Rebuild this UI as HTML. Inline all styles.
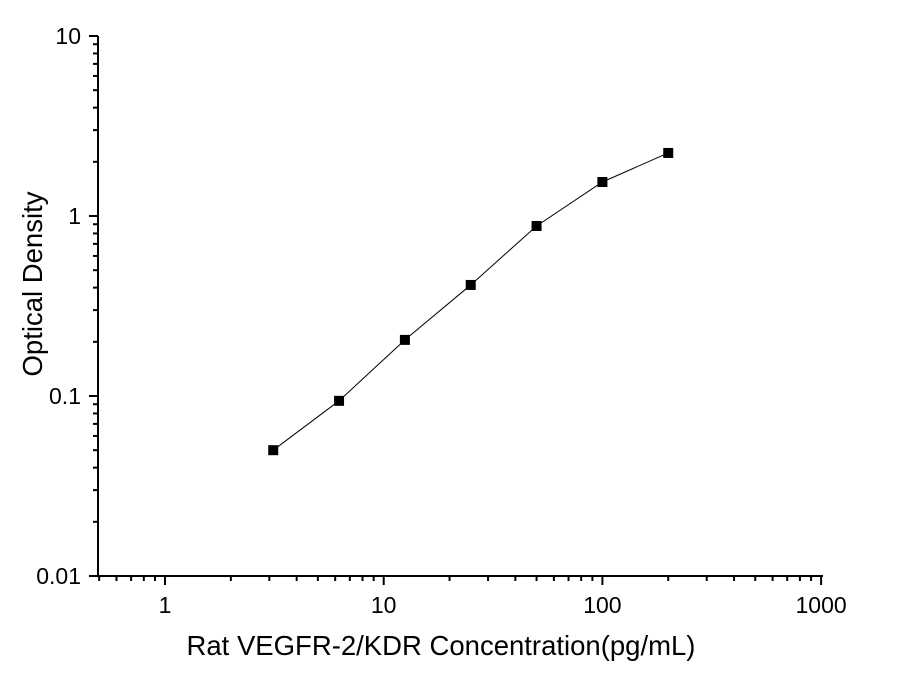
<!DOCTYPE html>
<html><head><meta charset="utf-8"><style>body{margin:0;background:#fff}svg{display:block}text{font-family:"Liberation Sans",Arial,sans-serif}</style></head>
<body>
<svg id="chart" width="905" height="688" viewBox="0 0 905 688" xmlns="http://www.w3.org/2000/svg">
<g id="grid"></g>
<text x="441" y="655" font-size="27.5" text-anchor="middle">Rat VEGFR-2/KDR Concentration(pg/mL)</text>
<text transform="translate(42,284) rotate(-90)" font-size="27.5" text-anchor="middle">Optical  Density</text>
</svg>
<script>
const concentrations=[3.125,6.25,12.5,25,50,100,200];
const odValues=[0.05,0.094,0.205,0.414,0.88,1.545,2.24];
const xTickLabels=["1","10","100","1000"];
const yTickLabels=["0.01","0.1","1","10"];
const NS="http://www.w3.org/2000/svg";
const g=document.getElementById('grid');
const x0=98,x1=823,y0=36,y1=576;
function X(v){return 165+218.7*Math.log10(v);}
function Y(v){return 216-180*Math.log10(v);}
function el(t,a){const e=document.createElementNS(NS,t);for(const k in a)e.setAttribute(k,a[k]);g.appendChild(e);return e;}
const ax=el('line',{x1:x0,y1:y1,x2:x1,y2:y1,stroke:'#000','stroke-width':2});


const ay=el('line',{x1:x0,y1:y0,x2:x0,y2:y1,stroke:'#000','stroke-width':2});


for(let d=-1;d<=3;d++){for(let m=1;m<=9;m++){const v=m*Math.pow(10,d);if(v<0.5||v>1000)continue;const x=X(v);
const t=el('line',{x1:x,y1:y1,x2:x,y2:y1+(m==1?9:5),stroke:'#000','stroke-width':2});

}}
xTickLabels.forEach(s=>{const t=el('text',{x:X(+s),y:y1+37,'font-size':23,'text-anchor':'middle'});t.textContent=s;

});
for(let d=-2;d<=0;d++){for(let m=1;m<=9;m++){const v=m*Math.pow(10,d);const y=Y(v);
const t=el('line',{x1:x0,y1:y,x2:x0-(m==1?9:5),y2:y,stroke:'#000','stroke-width':2});

}}
const tt=el('line',{x1:x0,y1:Y(10),x2:x0-9,y2:Y(10),stroke:'#000','stroke-width':2});


yTickLabels.forEach(s=>{const t=el('text',{x:x0-17,y:Y(+s)+8,'font-size':23,'text-anchor':'end'});t.textContent=s;

});
const pts=concentrations.map((c,i)=>X(c)+','+Y(odValues[i])).join(' ');
const pl=el('polyline',{points:pts,fill:'none',stroke:'#000','stroke-width':1});


concentrations.forEach((c,i)=>{const r=el('rect',{x:X(c)-5,y:Y(odValues[i])-5,width:10,height:10,fill:'#000'});

});
</script>
</body></html>
